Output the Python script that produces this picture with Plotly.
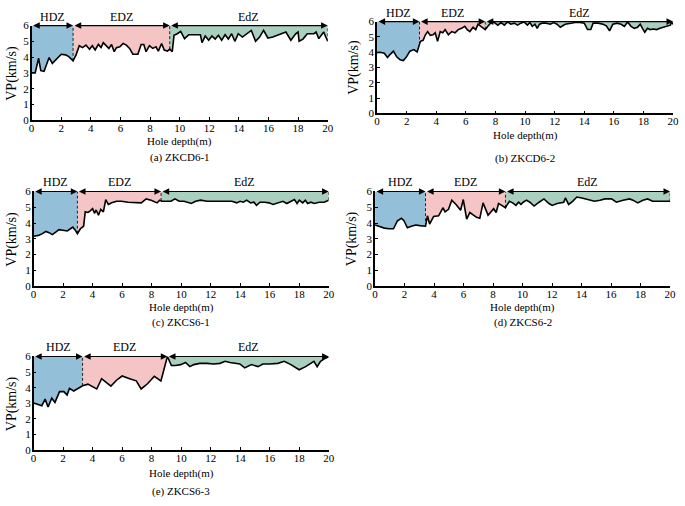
import numpy as np
import plotly.graph_objects as go

# ---------------- data ----------------
depth_a = [0.0, 0.24, 0.47, 0.62, 0.84, 1.18, 1.4, 1.73, 2.0, 2.29, 2.51, 2.8, 3.0, 3.22, 3.44, 3.67,
           3.91, 4.1, 4.29, 4.51, 4.69, 4.84, 5.07, 5.22, 5.4, 5.58, 5.73, 5.96, 6.18, 6.4, 6.62, 6.84,
           7.18, 7.4, 7.58, 7.73, 7.96, 8.18, 8.4, 8.56, 8.78, 8.96, 9.18, 9.33, 9.5, 9.62, 9.84, 10.07,
           10.33, 10.62, 10.96, 11.4, 11.51, 11.73, 11.96, 12.18, 12.4, 12.62, 12.84, 13.07, 13.29,
           13.51, 13.73, 13.96, 14.24, 14.56, 14.84, 15.13, 15.4, 15.67, 15.96, 16.29, 16.84, 17.18,
           17.51, 17.84, 18.0, 18.07, 18.33, 18.62, 19.07, 19.22, 19.4, 19.73, 20.0]
vp_a = [3.0, 3.0, 3.93, 3.14, 3.1, 3.97, 3.6, 3.93, 4.18, 4.14, 4.03, 3.76, 4.14, 4.72, 4.6, 4.76,
        4.5, 4.72, 4.45, 4.8, 4.6, 4.92, 4.65, 4.55, 4.8, 4.34, 4.6, 4.65, 4.86, 4.76, 4.55, 4.18,
        4.18, 4.8, 4.8, 4.34, 4.72, 4.55, 4.65, 4.38, 4.86, 4.45, 4.38, 4.5, 4.34, 5.38, 5.48, 5.63,
        5.17, 5.42, 5.42, 5.42, 4.92, 5.34, 5.07, 5.34, 5.14, 5.38, 5.07, 5.42, 5.14,
        5.48, 5.0, 5.48, 5.27, 5.48, 5.69, 5.0, 5.27, 5.69, 5.21, 5.27, 5.48, 5.59,
        5.07, 5.48, 5.59, 5.0, 5.14, 5.48, 5.48, 5.59, 5.17, 5.59, 5.0]

depth_b = [0.0, 0.22, 0.49, 0.71, 0.89, 1.11, 1.33, 1.56, 1.78, 2.0, 2.22, 2.49, 2.71, 2.87, 2.93,
           3.11, 3.27, 3.42, 3.6, 3.78, 3.93, 4.09, 4.27, 4.44, 4.6, 4.82, 5.04, 5.27, 5.49, 5.71,
           5.93, 6.09, 6.27, 6.49, 6.67, 6.82, 6.98, 7.16, 7.31, 7.49, 7.71, 7.93, 8.16, 8.38, 8.6,
           8.82, 9.04, 9.27, 9.49, 9.71, 9.93, 10.16, 10.33, 10.49, 10.67, 10.82, 10.98, 11.16, 11.42,
           11.71, 11.93, 12.16, 12.38, 12.71, 13.04, 13.38, 13.71, 14.0, 14.22, 14.44, 14.6, 14.93,
           15.27, 15.49, 15.71, 15.93, 16.22, 16.49, 16.71, 16.93, 17.16, 17.38, 17.6, 17.78, 17.93,
           18.09, 18.27, 18.44, 18.67, 18.89, 19.11, 19.38, 19.6, 19.82, 19.89, 20.0]
vp_b = [3.97, 4.0, 3.93, 3.65, 3.86, 4.07, 3.7, 3.5, 3.45, 3.71, 4.07, 4.17, 4.02, 4.5, 4.71,
        4.78, 5.14, 5.35, 5.1, 5.14, 5.27, 4.71, 5.35, 5.27, 5.48, 5.14, 5.35, 5.27, 5.48, 5.56,
        5.69, 5.48, 5.35, 5.63, 5.48, 5.83, 5.72, 5.63, 5.48, 5.69, 5.94, 5.94, 5.77, 5.94, 5.77,
        5.98, 5.83, 5.9, 5.77, 5.9, 5.98, 5.77, 5.94, 5.69, 5.83, 5.56, 5.83, 5.9, 5.9,
        5.83, 5.94, 5.83, 5.63, 5.83, 5.9, 5.94, 5.94, 5.9, 5.48, 5.48, 5.9, 5.9,
        5.83, 5.72, 5.4, 5.83, 5.9, 5.83, 5.69, 5.98, 5.69, 5.56, 5.63, 5.83, 5.56,
        5.31, 5.56, 5.48, 5.52, 5.48, 5.56, 5.63, 5.69, 5.77, 5.94, 5.83]

depth_c = [0.0, 0.33, 0.6, 0.83, 1.05, 1.27, 1.5, 1.72, 1.99, 2.28, 2.5, 2.66, 2.83, 2.97, 3.17,
           3.39, 3.5, 3.68, 3.84, 4.0, 4.13, 4.24, 4.4, 4.55, 4.73, 4.89, 5.07, 5.29, 5.63, 5.96,
           6.41, 6.85, 7.3, 7.63, 7.97, 8.37, 8.55, 8.68, 8.97, 9.31, 9.58, 9.87, 10.2, 10.42,
           10.69, 10.98, 11.32, 11.76, 12.21, 12.66, 13.1, 13.44, 13.77, 14.0, 14.22, 14.44, 14.71,
           14.94, 15.11, 15.34, 15.67, 15.96, 16.23, 16.56, 16.9, 17.16, 17.46, 17.68, 17.86, 18.01,
           18.24, 18.42, 18.57, 18.8, 19.02, 19.35, 19.69, 20.0]
vp_c = [3.16, 3.22, 3.33, 3.47, 3.39, 3.27, 3.43, 3.58, 3.54, 3.5, 3.64, 3.74, 3.54, 3.33, 3.64,
        3.8, 4.71, 4.67, 4.77, 4.91, 4.62, 4.83, 4.5, 4.87, 4.71, 5.49, 5.18, 5.28, 5.38, 5.38,
        5.32, 5.28, 5.28, 5.53, 5.45, 5.28, 5.45, 5.38, 5.38, 5.38, 5.53, 5.38, 5.38, 5.32,
        5.24, 5.38, 5.45, 5.38, 5.38, 5.38, 5.38, 5.38, 5.28, 5.38, 5.32, 5.45, 5.28,
        5.32, 5.12, 5.32, 5.32, 5.28, 5.18, 5.28, 5.38, 5.24, 5.38, 5.49, 5.24, 5.45,
        5.28, 5.45, 5.24, 5.32, 5.24, 5.32, 5.32, 5.45]

depth_d = [0.0, 0.29, 0.63, 0.96, 1.25, 1.52, 1.79, 1.96, 2.19, 2.46, 2.75, 3.04, 3.42, 3.55,
           3.7, 3.97, 4.31, 4.6, 4.75, 4.98, 5.2, 5.49, 5.8, 5.98, 6.21, 6.43, 6.65, 6.88, 7.1,
           7.32, 7.66, 7.88, 8.04, 8.21, 8.37, 8.59, 8.84, 8.93, 9.11, 9.33, 9.55, 9.73, 9.89,
           10.04, 10.27, 10.49, 10.78, 11.12, 11.45, 11.79, 12.01, 12.34, 12.79, 12.9, 13.12,
           13.39, 13.68, 14.02, 14.46, 14.87, 15.25, 15.58, 16.03, 16.36, 16.81, 17.25, 17.48,
           17.81, 18.15, 18.48, 18.81, 19.26, 19.82, 20.0]
vp_d = [3.88, 3.78, 3.68, 3.64, 3.64, 4.15, 4.3, 4.15, 3.7, 3.8, 3.88, 3.84, 3.8, 4.46,
        3.94, 4.42, 4.46, 4.97, 4.71, 4.87, 5.45, 5.18, 4.81, 5.49, 4.25, 4.67, 4.5, 4.36, 4.3,
        5.28, 4.5, 4.77, 4.91, 4.67, 5.24, 5.12, 4.97, 5.12, 5.38, 5.28, 5.12, 5.32, 5.18,
        5.32, 5.45, 5.32, 5.08, 5.32, 5.53, 5.24, 5.12, 5.24, 5.32, 5.59, 5.18,
        5.38, 5.65, 5.59, 5.49, 5.38, 5.45, 5.53, 5.53, 5.32, 5.45, 5.53, 5.45,
        5.28, 5.45, 5.53, 5.38, 5.38, 5.38, 5.38]

depth_e = [0.0, 0.27, 0.56, 0.78, 0.98, 1.23, 1.45, 1.76, 2.05, 2.27, 2.43, 2.72, 3.01, 3.32,
           3.68, 3.99, 4.28, 4.61, 4.88, 5.24, 5.62, 6.0, 6.51, 6.96, 7.29, 7.74, 8.18, 8.63,
           9.07, 9.34, 9.63, 9.97, 10.3, 10.59, 10.86, 11.26, 11.75, 12.2, 12.64, 12.98, 13.31,
           13.65, 13.98, 14.31, 14.76, 15.21, 15.54, 15.99, 16.55, 16.99, 17.44, 18.0, 18.44,
           19.0, 19.22, 19.45, 19.67, 20.0]
vp_e = [3.02, 2.96, 2.85, 3.27, 2.77, 3.33, 3.06, 3.75, 3.75, 3.54, 3.96, 3.79, 3.96, 4.12,
        4.23, 4.06, 3.92, 4.58, 4.38, 4.1, 4.48, 4.75, 4.58, 4.44, 3.92, 4.27, 4.73, 4.44,
        6.0, 5.42, 5.42, 5.48, 5.62, 5.35, 5.48, 5.56, 5.56, 5.52, 5.56, 5.69, 5.62,
        5.56, 5.52, 5.27, 5.48, 5.35, 5.52, 5.52, 5.56, 5.69, 5.48, 5.15, 5.35,
        5.69, 5.35, 5.69, 5.83, 5.98]

zones_a = [2.8, 9.33]
zones_b = [2.87, 7.31]
zones_c = [2.97, 8.64]
zones_d = [3.42, 8.84]
zones_e = [3.32, 9.07]

zone_names = ["HDZ", "EDZ", "EdZ"]
captions = ["(a) ZKCD6-1", "(b) ZKCD6-2", "(c) ZKCS6-1", "(d) ZKCS6-2", "(e) ZKCS6-3"]
x_ticks = list(range(0, 21, 2))
y_ticks = list(range(0, 7))
x_title = "Hole depth(m)"
y_title = "VP(km/s)"

# ---------------- styling / layout ----------------
zone_colors = ["#93c0d8", "#f5c4c4", "#a9cfbf"]
FONT = "Liberation Serif, Times New Roman, serif"
W, H = 685, 506
X_MAX, Y_MAX = 20, 6

# pixel boxes: left, right, top, bottom; vp label x; x-title y; caption y
panels = [
    dict(box=(29, 329, 20, 117), vp_x=9, xt_y=139, cap_y=155),
    dict(box=(379, 679, 16, 110), vp_x=355, xt_y=133, cap_y=156),
    dict(box=(31, 330, 190, 287), vp_x=9, xt_y=309, cap_y=324),
    dict(box=(377, 676, 190, 287), vp_x=353, xt_y=309, cap_y=324),
    dict(box=(31, 330, 359, 455), vp_x=9, xt_y=479, cap_y=497),
]
data = [(depth_a, vp_a, zones_a), (depth_b, vp_b, zones_b), (depth_c, vp_c, zones_c),
        (depth_d, vp_d, zones_d), (depth_e, vp_e, zones_e)]

fig = go.Figure()
annotations = []
layout = {}

for i, ((d, v, zones), p) in enumerate(zip(data, panels)):
    sfx = "" if i == 0 else str(i + 1)
    xr, yr = "x" + sfx, "y" + sfx
    d = np.asarray(d, float)
    v = np.asarray(v, float)
    bounds = [0.0] + list(zones) + [float(X_MAX)]

    # zone fills between curve and top line
    for k in range(3):
        b0, b1 = bounds[k], bounds[k + 1]
        m = (d > b0) & (d < b1)
        xs = [b0] + list(d[m]) + [b1, b1, b0]
        ys = [float(np.interp(b0, d, v))] + list(v[m]) + [float(np.interp(b1, d, v)), Y_MAX, Y_MAX]
        fig.add_trace(go.Scatter(x=xs, y=ys, fill="toself", fillcolor=zone_colors[k],
                                 mode="lines", line=dict(width=0), hoverinfo="skip",
                                 showlegend=False, xaxis=xr, yaxis=yr))

    # dashed boundaries
    for b in list(zones) + [float(X_MAX)]:
        fig.add_trace(go.Scatter(x=[b, b], y=[float(np.interp(b, d, v)), Y_MAX], mode="lines",
                                 line=dict(color="#222222", width=1, dash="3px,2px"),
                                 hoverinfo="skip", showlegend=False, xaxis=xr, yaxis=yr))

    # curve
    fig.add_trace(go.Scatter(x=d, y=v, mode="lines", line=dict(color="black", width=1.6),
                             showlegend=False, xaxis=xr, yaxis=yr))

    # arrows + zone labels
    for k in range(3):
        b0, b1 = bounds[k], bounds[k + 1]
        annotations.append(dict(x=b1, y=Y_MAX, ax=b0, ay=Y_MAX, xref=xr, yref=yr,
                                axref=xr, ayref=yr, text="", showarrow=True,
                                arrowside="end+start", arrowhead=2, arrowsize=1.1,
                                arrowwidth=1.2, arrowcolor="black", standoff=0, startstandoff=0))
        annotations.append(dict(x=(b0 + b1) / 2, y=Y_MAX, xref=xr, yref=yr, text=zone_names[k],
                                showarrow=False, xanchor="center", yanchor="bottom", yshift=0,
                                font=dict(family=FONT, size=12, color="black")))

    l, r, t, b = p["box"]
    axis_common = dict(ticks="inside", ticklen=3, tickwidth=1, tickcolor="black",
                       showline=True, linewidth=1.5, linecolor="black", showgrid=False,
                       zeroline=False, tickfont=dict(family=FONT, size=11, color="black"))
    layout["xaxis" + sfx] = dict(domain=[l / W, r / W], range=[0, X_MAX], anchor=yr,
                                 tickvals=x_ticks, ticklabelstandoff=-3, **axis_common)
    layout["yaxis" + sfx] = dict(domain=[1 - b / H, 1 - t / H], range=[0, Y_MAX], anchor=xr,
                                 tickvals=y_ticks, ticklabelstandoff=-1, **axis_common)

    annotations.append(dict(x=p["vp_x"] / W, y=1 - (t + b) / 2 / H, xref="paper", yref="paper",
                            text=y_title, textangle=-90, showarrow=False,
                            xanchor="center", yanchor="middle",
                            font=dict(family=FONT, size=14, color="black")))
    annotations.append(dict(x=(l + r) / 2 / W, y=1 - p["xt_y"] / H, xref="paper", yref="paper",
                            text=x_title, showarrow=False, xanchor="center", yanchor="middle",
                            font=dict(family=FONT, size=11, color="black")))
    annotations.append(dict(x=(l + r) / 2 / W, y=1 - p["cap_y"] / H, xref="paper", yref="paper",
                            text=captions[i], showarrow=False, xanchor="center", yanchor="middle",
                            font=dict(family=FONT, size=11, color="black")))

fig.update_layout(width=W, height=H, margin=dict(l=0, r=0, t=0, b=0),
                  paper_bgcolor="white", plot_bgcolor="white", showlegend=False,
                  annotations=annotations, font=dict(family=FONT, size=12, color="black"),
                  **layout)

fig.write_html("out.html", config={"displayModeBar": False},
               post_script="document.body.style.margin='0px';")
